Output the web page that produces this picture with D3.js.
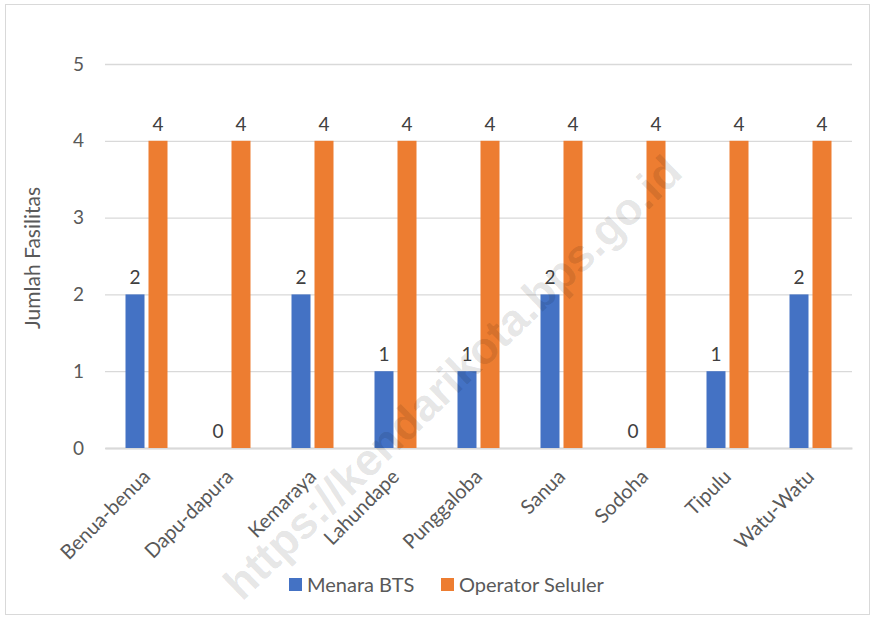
<!DOCTYPE html>
<html>
<head>
<meta charset="utf-8">
<script src="https://cdn.jsdelivr.net/npm/d3@7"></script>
<style>
  body { margin: 0; background: #fff; }
  text { font-family: Lato, "Open Sans", sans-serif; }
</style>
</head>
<body>
<script>
// data
const categories = ["Benua-benua", "Dapu-dapura", "Kemaraya", "Lahundape", "Punggaloba", "Sanua", "Sodoha", "Tipulu", "Watu-Watu"];
const menaraBTS = [2, 0, 2, 1, 1, 2, 0, 1, 2];
const operatorSeluler = [4, 4, 4, 4, 4, 4, 4, 4, 4];
const seriesNames = ["Menara BTS", "Operator Seluler"];
const yTicks = [0, 1, 2, 3, 4, 5];

const width = 876, height = 620;
const plotLeft = 105, plotRight = 852, plotTop = 64, plotBottom = 448;
const colors = ["#4472C4", "#ED7D31"];
const textColor = "#595959";

const svg = d3.select("body").append("svg")
  .attr("width", width).attr("height", height);

// chart border
svg.append("rect")
  .attr("x", 5.5).attr("y", 4.5)
  .attr("width", 864).attr("height", 610)
  .attr("fill", "#fff").attr("stroke", "#d9d9d9");

const x = d3.scaleBand(categories, [plotLeft, plotRight]);
const y = d3.scaleLinear([0, 5], [plotBottom, plotTop]);

// gridlines + y labels
const yAxis = svg.append("g")
  .attr("transform", `translate(${plotLeft},0)`)
  .call(d3.axisLeft(y).tickValues(yTicks).tickFormat(d3.format("d"))
    .tickSize(-(plotRight - plotLeft)).tickPadding(21));
yAxis.select(".domain").remove();
yAxis.selectAll("line").attr("stroke", "#d9d9d9").attr("stroke-width", 1.3);
yAxis.selectAll("text").attr("fill", textColor).style("font-size", "19px");

// x axis labels
const xAxis = svg.append("g")
  .attr("transform", `translate(0,${plotBottom})`)
  .call(d3.axisBottom(x).tickSize(0).tickPadding(0));
xAxis.select(".domain").attr("stroke", "#d9d9d9").attr("stroke-width", 2);
xAxis.selectAll("text")
  .attr("fill", textColor)
  .style("font-size", "20px")
  .attr("text-anchor", "end")
  .attr("dy", null)
  .attr("y", 0)
  .attr("transform", "translate(5,30) rotate(-45)");

const series = [menaraBTS, operatorSeluler];
const barW = 19;
const offsets = [-21, 2];

series.forEach((vals, s) => {
  const g = svg.append("g");
  g.selectAll("rect").data(vals).join("rect")
    .attr("x", (d, i) => x(categories[i]) + x.bandwidth() / 2 + offsets[s])
    .attr("y", d => y(d))
    .attr("width", barW)
    .attr("height", d => y(0) - y(d))
    .attr("fill", colors[s]);
  g.selectAll("text").data(vals).join("text")
    .attr("x", (d, i) => x(categories[i]) + x.bandwidth() / 2 + offsets[s] + barW / 2)
    .attr("y", d => y(d) - 10)
    .attr("text-anchor", "middle")
    .attr("fill", "#404040")
    .style("font-size", "19px")
    .text(d => d);
});

// y title
svg.append("text")
  .attr("transform", "translate(40,258) rotate(-90)")
  .attr("text-anchor", "middle")
  .attr("fill", textColor)
  .style("font-size", "21px")
  .text("Jumlah Fasilitas");

// legend
const legendX = [289, 441];
seriesNames.forEach((n, i) => {
  svg.append("rect")
    .attr("x", legendX[i]).attr("y", 578)
    .attr("width", 13).attr("height", 13)
    .attr("fill", colors[i]);
  svg.append("text")
    .attr("x", legendX[i] + 18).attr("y", 592)
    .attr("fill", textColor)
    .style("font-size", "20px")
    .text(n);
});

// watermark
svg.append("text")
  .attr("transform", "translate(455,380) rotate(-44)")
  .attr("text-anchor", "middle")
  .attr("dominant-baseline", "middle")
  .attr("fill", "#000")
  .attr("fill-opacity", 0.11)
  .style("font-family", "'Liberation Sans', sans-serif")
  .style("font-weight", "bold")
  .style("font-size", "45px")
  .text("https://kendarikota.bps.go.id");
</script>
</body>
</html>
